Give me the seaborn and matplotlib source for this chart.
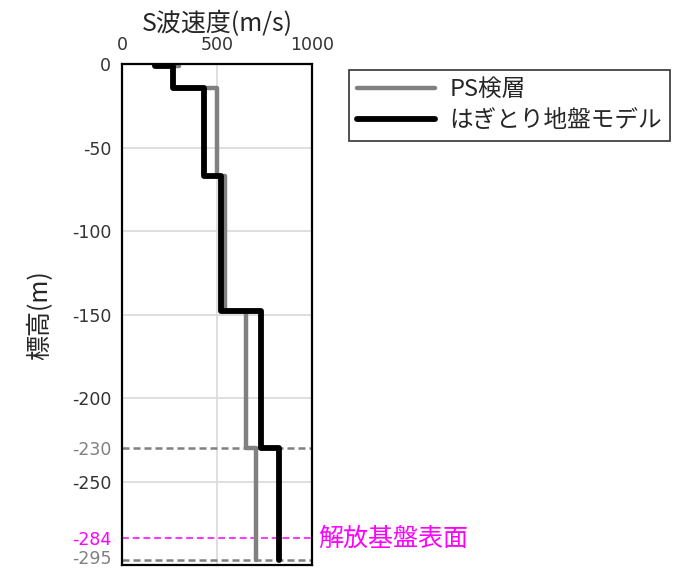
import pandas as pd
import seaborn as sns
import matplotlib.pyplot as plt
from matplotlib.lines import Line2D

# layer tops (elevation, m) and S-wave velocity (m/s)
layer_top = [0, -1, -14, -67, -148, -230]
base_depth = -297
vs_ps = [300, 267, 500, 542, 651, 703]
vs_model = [172, 267, 431, 521, 730, 823]

series_names = ["PS検層", "はぎとり地盤モデル"]

y_ticks = [0, -50, -100, -150, -200, -230, -250, -284, -295]
grid_y = [-50, -100, -150, -200, -250]
dashed_gray = [-230, -297]
bedrock = -284
bedrock_label = "解放基盤表面"


def step_profile(vs, name):
    bottoms = layer_top[1:] + [base_depth]
    rows = []
    for v, top, bot in zip(vs, layer_top, bottoms):
        rows.append((v, top))
        rows.append((v, bot))
    df = pd.DataFrame(rows, columns=["vs", "elev"])
    df["name"] = name
    return df


def main():
    sns.set_style("white")
    plt.rcParams['font.family'] = ['Noto Sans CJK JP', 'DejaVu Sans']

    fig = plt.figure(figsize=(6.8, 5.68), dpi=100)
    ax = fig.add_axes([0.18, 0.005, 0.279, 0.882])

    for gy in grid_y:
        ax.axhline(gy, color="#d9d9d9", lw=1.2, zorder=0)
    ax.axvline(500, color="#d9d9d9", lw=1.2, zorder=0)

    for dy in dashed_gray:
        ax.axhline(dy, color="#808080", lw=1.8, ls=(0, (2.8, 1.6)), zorder=1)
    ax.axhline(bedrock, color="#ff00ff", lw=1.1, ls=(0, (4.5, 2.5)), zorder=1)

    ps = step_profile(vs_ps, series_names[0])
    model = step_profile(vs_model, series_names[1])
    sns.lineplot(data=ps, x="vs", y="elev", sort=False, estimator=None,
                 color="#808080", lw=3.2, ax=ax, zorder=2)
    sns.lineplot(data=model, x="vs", y="elev", sort=False, estimator=None,
                 color="black", lw=4.2, ax=ax, zorder=3)

    ax.set_xlim(0, 1000)
    ax.set_ylim(-300, 0)
    ax.xaxis.tick_top()
    ax.xaxis.set_label_position("top")
    ax.set_xticks([0, 500, 1000])
    ax.set_yticks(y_ticks)
    ax.set_yticklabels([str(t) for t in y_ticks])
    ax.tick_params(length=0, labelsize=12.5, colors="#333333")
    ax.tick_params(axis="y", pad=8)
    ax.tick_params(axis="x", pad=7)
    for lab in ax.get_xticklabels() + ax.get_yticklabels():
        lab.set_family("DejaVu Sans")
    for lab, t in zip(ax.get_yticklabels(), y_ticks):
        if t in (-230, -295):
            lab.set_color("#808080")
        elif t == bedrock:
            lab.set_color("#ff00ff")

    ax.set_xlabel("S波速度(m/s)", fontsize=18, labelpad=4)
    ax.set_ylabel("標高(m)", fontsize=18, labelpad=13)

    for s in ax.spines.values():
        s.set_color("black")
        s.set_linewidth(1.6)

    ax.text(1030, bedrock, bedrock_label, color="#ff00ff", fontsize=18,
            va="center", ha="left", clip_on=False)

    handles = [Line2D([], [], color="#808080", lw=3.2),
               Line2D([], [], color="black", lw=4.2)]
    leg = fig.legend(handles, series_names, loc="upper left",
                     bbox_to_anchor=(0.513, 0.877), fontsize=17,
                     frameon=True, fancybox=False, handlelength=3.3,
                     borderpad=0.35, labelspacing=0.35, handletextpad=0.6,
                     borderaxespad=0)
    leg.get_frame().set_edgecolor("black")
    leg.get_frame().set_linewidth(1.2)

    fig.savefig("out.png", dpi=100)


if __name__ == '__main__':
    main()
